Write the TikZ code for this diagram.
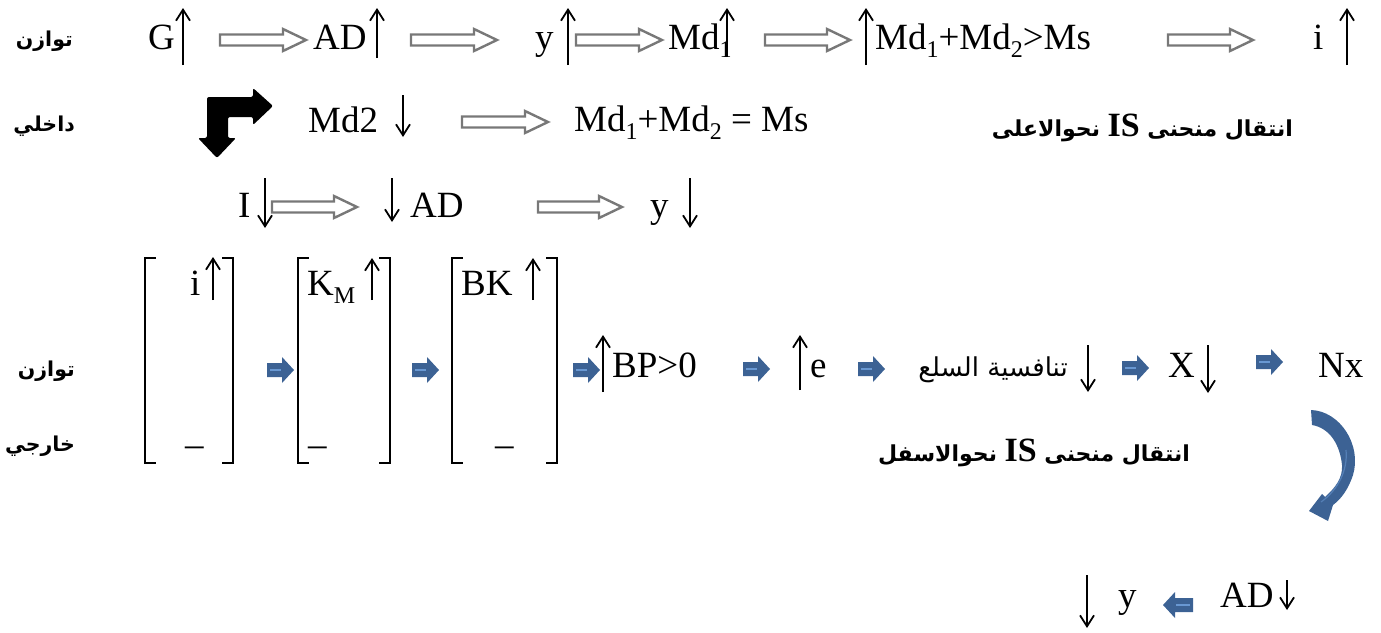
\documentclass[tikz,border=0pt]{standalone}
\usepackage{fontspec}
\setmainfont{Liberation Serif}
\newfontfamily\arabicfont[Script=Arabic]{DejaVu Sans}
\TeXXeTstate=1
\usetikzlibrary{arrows.meta}
\definecolor{steel}{RGB}{60,98,148}
\definecolor{steellight}{RGB}{105,152,210}
\definecolor{hollowgray}{RGB}{120,120,120}
\newcommand\bigtxt{\fontsize{37}{44}\selectfont}
\newcommand\sbs[1]{\raisebox{-0.22em}{\fontsize{24}{24}\selectfont #1}}
\newcommand\latinIS{\beginL{\rmfamily\bfseries\fontsize{34}{34}\selectfont IS}\endL{}}
% hollow block arrow: start x, tip x, centre y
\newcommand\hollowarrow[3]{%
  \draw[hollowarr] (#1,#3-5.5) -- (#2-23,#3-5.5) -- (#2-23,#3-11) -- (#2,#3)
    -- (#2-23,#3+11) -- (#2-23,#3+5.5) -- (#1,#3+5.5) -- cycle;}
% small blue block arrow pointing right: start x, centre y
\newcommand\bluearrow[2]{%
  \fill[steel] (#1,#2-7) -- (#1+15,#2-7) -- (#1+15,#2-13) -- (#1+27,#2)
    -- (#1+15,#2+13) -- (#1+15,#2+7) -- (#1,#2+7) -- cycle;
  \draw[steellight, line width=2.5pt] (#1+3,#2) -- (#1+14,#2);}
% same, pointing left: tip x, centre y
\newcommand\bluearrowleft[2]{%
  \fill[steel] (#1,#2) -- (#1+12,#2-13) -- (#1+12,#2-7) -- (#1+30,#2-7)
    -- (#1+30,#2+7) -- (#1+12,#2+7) -- (#1+12,#2+13) -- cycle;
  \draw[steellight, line width=2.5pt] (#1+13,#2) -- (#1+27,#2);}
\tikzset{
  txt/.style={inner sep=0pt, anchor=base west, font=\bigtxt},
  artxt/.style={inner sep=0pt, anchor=base east, font=\arabicfont\bfseries\fontsize{22}{27}\selectfont},
  sidelab/.style={inner sep=0pt, anchor=base east, font=\arabicfont\bfseries\fontsize{20.5}{25}\selectfont},
  sig/.style={line width=1.8pt, -{Straight Barb[length=11pt,width=14pt,line width=1.8pt]}},
  hollowarr/.style={draw=hollowgray, line width=2.4pt, fill=white, line join=miter},
  bracketline/.style={line width=1.8pt, line cap=rect},
}
\begin{document}
\begin{tikzpicture}[x=1pt,y=-1pt]
\useasboundingbox (0,0) rectangle (1381,632);

% ---- side labels
\node[sidelab] (lab1) at (73,46) {\beginR توازن\endR};
\node[sidelab] (lab2) at (75,131) {\beginR داخلي\endR};
\node[sidelab] (lab3) at (75,376) {\beginR توازن\endR};
\node[sidelab] (lab4) at (75,451) {\beginR خارجي\endR};

% ---- row 1
\node[txt] (g1) at (148,49) {G};
\draw[sig] (183,65) -- (183,8);
\hollowarrow{220}{306}{40}
\node[txt] (ad1) at (313,49) {AD};
\draw[sig] (377,58) -- (377,8);
\hollowarrow{411}{497}{40}
\node[txt] (y1) at (535,49) {y};
\draw[sig] (568,65) -- (568,8);
\hollowarrow{576}{662}{40}
\node[txt] (md1) at (668,49) {Md\sbs{1}};
\draw[sig] (727,57) -- (727,8);
\hollowarrow{765}{850}{40}
\draw[sig] (866,65) -- (866,8);
\node[txt] (ineq) at (875,49) {Md\sbs{1}+Md\sbs{2}>Ms};
\hollowarrow{1168}{1253}{40}
\node[txt] (i1) at (1313,49) {i};
\draw[sig] (1347,65) -- (1347,8);

% ---- row 2
\fill[black, rounded corners=2pt] (207,138) -- (198,138) -- (217,158) -- (236,138)
  -- (228,138) -- (228,117) -- (253,117) -- (253,125) -- (273,106) -- (253,88)
  -- (253,97) -- (207,97) -- cycle;
\node[txt] (md2) at (308,132) {Md2};
\draw[sig] (403,95) -- (403,137);
\hollowarrow{462}{548}{122}
\node[txt] (eq) at (574,131) {Md\sbs{1}+Md\sbs{2} = Ms};
\node[artxt] (up) at (1293,136) {\beginR انتقال منحنى \latinIS{} نحوالاعلى\endR};

% ---- row 3
\node[txt] (inv) at (238,217) {I};
\draw[sig] (265,178) -- (265,228);
\hollowarrow{272}{357}{207}
\draw[sig] (392,178) -- (392,222);
\node[txt] (ad3) at (410,217) {AD};
\hollowarrow{538}{622}{207}
\node[txt] (y3) at (650,217) {y};
\draw[sig] (690,178) -- (690,228);

% ---- bracketed columns
\draw[bracketline] (155,258) -- (145,258) -- (145,463) -- (155,463);
\draw[bracketline] (223,258) -- (233,258) -- (233,463) -- (223,463);
\node[txt] (i2) at (190,295) {i};
\draw[sig] (213,300) -- (213,257);
\node[txt] (d1) at (185,456) {–};

\draw[bracketline] (308,258) -- (298,258) -- (298,463) -- (308,463);
\draw[bracketline] (380,258) -- (390,258) -- (390,463) -- (380,463);
\node[txt] (km) at (307,295) {K\sbs{M}};
\draw[sig] (372,300) -- (372,258);
\node[txt] (d2) at (308,456) {–};

\draw[bracketline] (462,258) -- (452,258) -- (452,463) -- (462,463);
\draw[bracketline] (547,258) -- (557,258) -- (557,463) -- (547,463);
\node[txt] (bk) at (461,295) {BK};
\draw[sig] (533,300) -- (533,258);
\node[txt] (d3) at (495,456) {–};

% ---- external chain
\bluearrow{267}{370}
\bluearrow{412}{370}
\bluearrow{573}{370}
\draw[sig] (603,392) -- (603,335);
\node[txt] (bp) at (612,377) {BP>0};
\bluearrow{743}{369}
\draw[sig] (800,390) -- (800,335);
\node[txt] (e) at (810,377) {e};
\bluearrow{858}{369}
\node[artxt, font=\arabicfont\fontsize{26}{30}\selectfont] (comp) at (1068,376) {\beginR تنافسية السلع\endR};
\draw[sig] (1088,345) -- (1088,392);
\bluearrow{1122}{368}
\node[txt] (x) at (1168,377) {X};
\draw[sig] (1208,345) -- (1208,393);
\bluearrow{1256}{362}
\node[txt] (nx) at (1318,377) {Nx};

% ---- curved return arrow
\fill[steel] (1311,410) .. controls (1340,411) and (1362,445) .. (1353,475)
  .. controls (1348,490) and (1341,499) .. (1333,505) -- (1328,521) -- (1309,511)
  -- (1322,494) -- (1325,497) .. controls (1335,488) and (1343,478) .. (1342,465)
  .. controls (1340,445) and (1330,428) .. (1312,425) -- cycle;
\draw[steellight, line width=1.2pt, opacity=0.55] (1321,502) .. controls (1338,490) and (1348,470) .. (1346,450);
\node[artxt] (down) at (1190,461) {\beginR انتقال منحنى \latinIS{} نحوالاسفل\endR};

% ---- bottom row
\draw[sig] (1087,575) -- (1087,628);
\node[txt] (y4) at (1118,607) {y};
\bluearrowleft{1163}{605}
\node[txt] (ad4) at (1220,607) {AD};
\draw[sig] (1287,580) -- (1287,610);
\end{tikzpicture}
\end{document}
